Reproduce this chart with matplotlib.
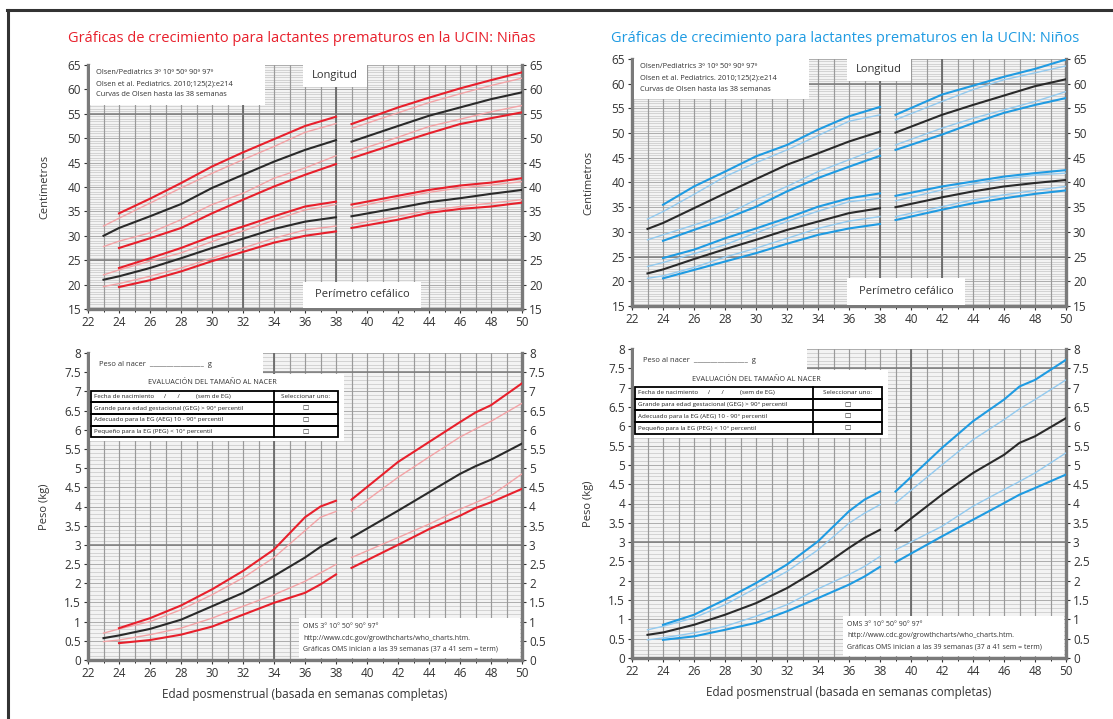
import numpy as np
import matplotlib
matplotlib.use("Agg")
import matplotlib.pyplot as plt
from matplotlib.patches import Rectangle
from matplotlib.lines import Line2D

plt.rcParams["font.family"] = ["Open Sans", "DejaVu Sans"]

nan = np.nan

# weeks
WK_OLSEN = [23, 24, 26, 28, 30, 32, 34, 36, 38]
WK_WHO = [39, 42, 44, 46, 48, 50]
WK_OLSEN_W = [23, 24, 26, 28, 30, 32, 34, 36, 37, 38]
WK_WHO_W = [39, 42, 44, 46, 47, 48, 50]
PCTS = ["p3", "p10", "p50", "p90", "p97"]

# ---- girls ----
girls_len_olsen = {
    "p3":  [nan, 27.5, 29.5, 31.6, 34.6, 37.4, 40.1, 42.5, 44.7],
    "p10": [27.8, 28.9, 30.6, 33.3, 36.4, 38.7, 41.8, 43.9, 46.4],
    "p50": [30.0, 31.6, 34.0, 36.5, 39.8, 42.5, 45.2, 47.6, 49.6],
    "p90": [32.0, 33.6, 36.7, 39.8, 42.8, 45.6, 48.3, 51.2, 53.0],
    "p97": [nan, 34.6, 37.6, 40.8, 44.2, 47.1, 49.8, 52.5, 54.4],
}
girls_len_who = {
    "p3":  [45.9, 49.0, 51.0, 52.9, 54.1, 55.3],
    "p10": [47.1, 50.2, 52.4, 53.9, 55.4, 56.7],
    "p50": [49.3, 52.5, 54.6, 56.3, 58.0, 59.4],
    "p90": [52.0, 55.2, 57.3, 59.1, 60.8, 62.3],
    "p97": [52.9, 56.3, 58.3, 60.2, 61.9, 63.5],
}
girls_head_olsen = {
    "p3":  [nan, 19.5, 20.9, 22.7, 24.8, 26.7, 28.6, 30.0, 30.9],
    "p10": [19.6, 20.2, 21.7, 23.4, 25.4, 27.5, 29.5, 31.2, 32.0],
    "p50": [21.0, 21.7, 23.4, 25.4, 27.5, 29.4, 31.4, 32.9, 33.8],
    "p90": [22.0, 23.0, 24.8, 26.5, 28.8, 31.0, 33.2, 35.3, 36.4],
    "p97": [nan, 23.4, 25.4, 27.5, 29.9, 31.9, 34.0, 36.0, 37.0],
}
girls_head_who = {
    "p3":  [31.6, 33.3, 34.7, 35.5, 36.0, 36.8],
    "p10": [32.3, 34.0, 35.2, 36.0, 36.7, 37.4],
    "p50": [34.0, 35.7, 36.9, 37.7, 38.6, 39.4],
    "p90": [35.7, 37.7, 38.9, 39.8, 40.4, 41.1],
    "p97": [36.4, 38.2, 39.4, 40.3, 40.9, 41.8],
}
girls_wt_olsen = {
    "p3":  [nan, 0.44, 0.52, 0.66, 0.87, 1.18, 1.49, 1.75, 1.97, 2.23],
    "p10": [0.48, 0.52, 0.66, 0.83, 1.09, 1.40, 1.70, 2.05, 2.27, 2.49],
    "p50": [0.57, 0.64, 0.81, 1.05, 1.40, 1.75, 2.19, 2.67, 2.95, 3.17],
    "p90": [0.70, 0.81, 1.00, 1.31, 1.70, 2.14, 2.67, 3.37, 3.72, 3.87],
    "p97": [nan, 0.83, 1.09, 1.42, 1.84, 2.32, 2.88, 3.72, 4.00, 4.15],
}
girls_wt_who = {
    "p3":  [2.40, 3.00, 3.41, 3.76, 3.96, 4.11, 4.46],
    "p10": [2.67, 3.19, 3.54, 3.93, 4.10, 4.28, 4.85],
    "p50": [3.19, 3.89, 4.37, 4.85, 5.05, 5.22, 5.64],
    "p90": [3.87, 4.76, 5.29, 5.81, 6.02, 6.22, 6.69],
    "p97": [4.18, 5.16, 5.68, 6.20, 6.45, 6.64, 7.21],
}

# ---- boys ----
boys_len_olsen = {
    "p3":  [nan, 28.2, 30.4, 32.6, 35.1, 38.2, 40.9, 43.2, 45.4],
    "p10": [28.4, 29.4, 31.4, 33.4, 36.5, 39.2, 42.2, 44.6, 47.0],
    "p50": [30.6, 31.8, 34.8, 37.8, 40.7, 43.6, 45.9, 48.3, 50.3],
    "p90": [32.6, 34.1, 37.6, 41.2, 44.0, 46.6, 49.5, 52.4, 53.7],
    "p97": [nan, 35.5, 39.2, 42.2, 45.3, 47.6, 50.7, 53.4, 55.3],
}
boys_len_who = {
    "p3":  [46.6, 49.7, 52.0, 54.1, 55.7, 57.1],
    "p10": [47.6, 51.0, 53.0, 54.7, 56.4, 58.4],
    "p50": [50.1, 53.7, 55.7, 57.6, 59.5, 60.9],
    "p90": [52.7, 56.4, 58.8, 60.8, 62.2, 63.6],
    "p97": [53.7, 57.8, 59.6, 61.4, 63.0, 64.9],
}
boys_head_olsen = {
    "p3":  [nan, 20.6, 22.3, 24.0, 25.7, 27.6, 29.4, 30.7, 31.6],
    "p10": [20.6, 21.1, 22.8, 24.9, 26.7, 28.7, 30.7, 32.2, 33.1],
    "p50": [21.6, 22.4, 24.5, 26.5, 28.4, 30.4, 32.1, 33.8, 34.8],
    "p90": [23.0, 23.8, 25.6, 27.4, 29.8, 32.1, 34.2, 36.1, 36.8],
    "p97": [nan, 24.7, 26.4, 28.7, 30.7, 32.8, 35.1, 36.8, 37.8],
}
boys_head_who = {
    "p3":  [32.4, 34.5, 35.8, 36.8, 37.7, 38.4],
    "p10": [33.1, 35.1, 36.5, 37.5, 38.4, 39.2],
    "p50": [35.0, 37.0, 38.2, 39.2, 39.9, 40.5],
    "p90": [36.3, 38.5, 39.7, 40.7, 41.5, 41.9],
    "p97": [37.3, 39.2, 40.2, 41.2, 41.9, 42.5],
}
boys_wt_olsen = {
    "p3":  [nan, 0.47, 0.56, 0.73, 0.91, 1.21, 1.55, 1.90, 2.11, 2.36],
    "p10": [0.47, 0.52, 0.65, 0.82, 1.08, 1.38, 1.79, 2.16, 2.37, 2.63],
    "p50": [0.60, 0.66, 0.86, 1.12, 1.42, 1.81, 2.29, 2.85, 3.11, 3.32],
    "p90": [0.73, 0.82, 1.04, 1.38, 1.81, 2.24, 2.80, 3.49, 3.75, 3.97],
    "p97": [nan, 0.86, 1.12, 1.51, 1.94, 2.42, 3.02, 3.80, 4.10, 4.31],
}
boys_wt_who = {
    "p3":  [2.48, 3.15, 3.58, 4.01, 4.23, 4.40, 4.75],
    "p10": [2.80, 3.41, 3.93, 4.36, 4.57, 4.79, 5.31],
    "p50": [3.30, 4.23, 4.79, 5.26, 5.57, 5.74, 6.21],
    "p90": [4.01, 5.00, 5.65, 6.17, 6.45, 6.69, 7.20],
    "p97": [4.31, 5.44, 6.13, 6.69, 7.03, 7.20, 7.72],
}

TITLES = ["Gráficas de crecimiento para lactantes prematuros en la UCIN: Niñas",
          "Gráficas de crecimiento para lactantes prematuros en la UCIN: Niños"]
OLSEN_NOTE = ["Olsen/Pediatrics 3º 10º 50º 90º 97º",
              "Olsen et al. Pediatrics. 2010;125(2):e214",
              "Curvas de Olsen hasta las 38 semanas"]
OMS_NOTE = ["OMS 3° 10° 50° 90° 97°",
            "http://www.cdc.gov/growthcharts/who_charts.htm.",
            "Gráficas OMS inician a las 39 semanas (37 a 41 sem = term)"]
TABLE_ROWS = [("Fecha de nacimiento      /       /          (sem de EG)", "Seleccionar uno:"),
              ("Grande para edad gestacional (GEG) > 90° percentil", "☐"),
              ("Adecuado para la EG (AEG) 10 - 90° percentil", "☐"),
              ("Pequeño para la EG (PEG) < 10° percentil", "☐")]

RED, RED_L = "#e8202c", "#f3a3a6"
BLUE, BLUE_L = "#1f9be2", "#93caef"
BLACK = "#2a2a2a"
GRID_C = "#9a9a9a"

W, H = 1113, 719
fig = plt.figure(figsize=(W / 100, H / 100), dpi=100)


def fax(x0, x1, y0, y1):
    # pixel box -> axes
    return fig.add_axes([x0 / W, 1 - y1 / H, (x1 - x0) / W, (y1 - y0) / H])


def base_grid(ax, ymin, ymax, ystep, minor, heavy_x, heavy_y):
    ax.set_xlim(22, 50)
    ax.set_ylim(ymin, ymax)
    ax.set_facecolor("#f3f3f3")
    for y in np.arange(ymin, ymax + 1e-9, minor):
        ax.axhline(y, color="#c6c6c6", lw=0.5, zorder=0.5)
    for y in np.arange(ymin, ymax + 1e-9, ystep):
        ax.axhline(y, color="#adadad", lw=0.7, zorder=0.6)
    for x in range(22, 51):
        ax.axvline(x, color=GRID_C, lw=0.85, zorder=0.7)
    for x in heavy_x:
        ax.axvline(x, color="#6a6a6a", lw=1.3, zorder=0.8)
    for y in heavy_y:
        ax.axhline(y, color="#7a7a7a", lw=1.1, zorder=0.8)
    ax.set_xticks(range(22, 51, 2))
    ax.set_xticks(range(22, 51), minor=True)
    ax.set_yticks(np.arange(ymin, ymax + 1e-9, ystep))
    ax.yaxis.set_major_formatter(plt.FuncFormatter(lambda v, p: f"{v:g}"))
    ax.tick_params(axis="both", labelsize=8.5, colors="#333333", length=3,
                   width=0.8, pad=2, left=True, right=True, labelright=True)
    ax.tick_params(axis="x", which="minor", length=2)
    for s in ["left", "right", "bottom"]:
        ax.spines[s].set_color("#7a7a7a")
        ax.spines[s].set_linewidth(2.4)
    ax.spines["top"].set_visible(False)


def curves(ax, wk_a, olsen, wk_b, who, c, cl):
    for p in PCTS:
        if p == "p50":
            col, lw = BLACK, 1.5
        elif p in ("p3", "p97"):
            col, lw = c, 1.5
        else:
            col, lw = cl, 1.0
        ax.plot(wk_a, olsen[p], color=col, lw=lw, zorder=3)
        ax.plot(wk_b, who[p], color=col, lw=lw, zorder=3)


def white_box(ax, x0, x1, y0, y1):
    ax.add_patch(Rectangle((x0, y0), x1 - x0, y1 - y0, facecolor="white",
                           edgecolor="none", zorder=4, clip_on=False))


def top_panel(ax, len_o, len_w, head_o, head_w, c, cl, heavy_x, heavy_y):
    base_grid(ax, 15, 65, 5, 0.5, heavy_x, heavy_y)
    curves(ax, WK_OLSEN, len_o, WK_WHO, len_w, c, cl)
    curves(ax, WK_OLSEN, head_o, WK_WHO, head_w, c, cl)
    white_box(ax, 22.15, 33.4, 56.9, 65)
    for i, t in enumerate(OLSEN_NOTE):
        ax.text(22.5, 63.5 - i * 2.3, t, fontsize=5.3, color="#333333",
                va="center", zorder=5)
    white_box(ax, 35.9, 40.0, 60.5, 65)
    ax.text(37.95, 62.9, "Longitud", fontsize=8, color="#333333",
            ha="center", va="center", zorder=5)
    white_box(ax, 35.9, 43.5, 15.2, 20.6)
    ax.text(39.7, 17.9, "Perímetro cefálico", fontsize=8, color="#333333",
            ha="center", va="center", zorder=5)
    ax.set_ylabel("Centímetros", fontsize=8, color="#333333", labelpad=12)


def bottom_panel(ax, wt_o, wt_w, c, cl, heavy_x, heavy_y, split):
    base_grid(ax, 0, 8, 0.5, 0.1, heavy_x, heavy_y)
    curves(ax, WK_OLSEN_W, wt_o, WK_WHO_W, wt_w, c, cl)
    white_box(ax, 22.15, 33.3, 7.45, 8)
    ax.text(22.7, 7.7, "Peso al nacer  ________________  g", fontsize=5.5,
            color="#333333", va="center", zorder=5)
    white_box(ax, 22.15, 38.5, 5.7, 7.45)
    ax.text(30.0, 7.22, "EVALUACIÓN DEL TAMAÑO AL NACER", fontsize=5.2,
            color="#333333", ha="center", va="center", zorder=5)
    top, bot = 7.02, 5.8
    rh = (top - bot) / len(TABLE_ROWS)
    for i, (a, b) in enumerate(TABLE_ROWS):
        y1 = top - i * rh
        ax.add_patch(Rectangle((22.2, y1 - rh), 38.1 - 22.2, rh, facecolor="none",
                               edgecolor="black", lw=1.3, zorder=6))
        ax.plot([split, split], [y1 - rh, y1], color="black", lw=1.3, zorder=6)
        ax.text(22.4, y1 - rh / 2, a, fontsize=4.5, color="#222222",
                va="center", zorder=6)
        ax.text((split + 38.1) / 2, y1 - rh / 2, b, fontsize=4.6 if i == 0 else 5,
                color="#222222", ha="center", va="center", zorder=6,
                family=["DejaVu Sans"] if i else None)
    white_box(ax, 35.6, 49.9, 0.05, 1.1)
    for i, t in enumerate(OMS_NOTE):
        ax.text(35.9, 0.86 - i * 0.29, t, fontsize=5.0, color="#333333",
                va="center", zorder=5)
    ax.set_ylabel("Peso (kg)", fontsize=8, color="#333333", labelpad=10)
    ax.set_xlabel("Edad posmenstrual (basada en semanas completas)",
                  fontsize=8.5, color="#333333", labelpad=6)


ax1 = fax(88, 522, 65, 309)
top_panel(ax1, girls_len_olsen, girls_len_who, girls_head_olsen, girls_head_who,
          RED, RED_L, [32, 38], [25, 55])
ax2 = fax(88, 522, 353, 660)
bottom_panel(ax2, girls_wt_olsen, girls_wt_who, RED, RED_L, [34], [3, 7.5], 34.0)

ax3 = fax(632, 1066, 59, 306)
top_panel(ax3, boys_len_olsen, boys_len_who, boys_head_olsen, boys_head_who,
          BLUE, BLUE_L, [38, 42], [25, 60])
ax4 = fax(632, 1066, 349, 658)
bottom_panel(ax4, boys_wt_olsen, boys_wt_who, BLUE, BLUE_L, [40], [3, 7.5], 33.7)

fig.text(302 / W, 1 - 38 / H, TITLES[0], color=RED, fontsize=10.5,
         ha="center", va="center")
fig.text(845 / W, 1 - 38 / H, TITLES[1], color=BLUE, fontsize=10.5,
         ha="center", va="center")

# page frame
fig.add_artist(Line2D([7 / W, 1.0], [1 - 10 / H, 1 - 10 / H], color="#333333", lw=2.2))
fig.add_artist(Line2D([8 / W, 8 / W], [1 - 10 / H, 0], color="#333333", lw=2.2))

fig.savefig("out.png", dpi=100, facecolor="white")
